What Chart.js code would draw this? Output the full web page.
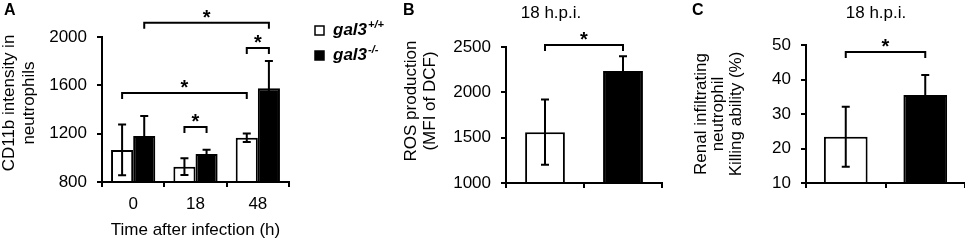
<!DOCTYPE html>
<html>
<head>
<meta charset="utf-8">
<title>gal3 neutrophils</title>
<script src="https://cdn.jsdelivr.net/npm/chart.js@4"></script>
<style>
  body { margin: 0; background: #fff; }
  #wrap { position: relative; width: 965px; height: 243px; overflow: hidden; }
  canvas { position: absolute; top: 0; }
</style>
</head>
<body>
<div id="wrap">
  <canvas id="chartA" width="400" height="243" style="left:0px"></canvas>
  <canvas id="chartB" width="289" height="243" style="left:401px"></canvas>
  <canvas id="chartC" width="275" height="243" style="left:690px"></canvas>
</div>
<script>
const FONT = '"Liberation Sans", Arial, Helvetica, sans-serif';

// panel A - CD11b intensity
const timeLabels = ['0', '18', '48'];
const cd11bWt = [1065, 927, 1167];
const cd11bWtErr = [210, 70, 35];
const cd11bKo = [1181, 1032, 1576];
const cd11bKoErr = [165, 35, 226];
const cd11bTicks = [800, 2000, 400];

// panels B and C - 18 h.p.i.
const genotypes = ['gal3+/+', 'gal3-/-'];
const rosValues = [1560, 2235];
const rosErr = [360, 162];
const rosTicks = [1000, 2500, 500];
const killValues = [23.4, 35.5];
const killErr = [8.7, 5.8];
const killTicks = [10, 50, 10];

// significance brackets: [dataset, bar] -> [dataset, bar] at a y level
const cd11bBrackets = [
  { from: [1, 0], to: [1, 2], level: 2118 },
  { from: [0, 2], to: [1, 2], level: 1909 },
  { from: [0, 0], to: [0, 2], level: 1536 },
  { from: [0, 1], to: [1, 1], level: 1255 }
];
const rosBrackets = [{ from: [0, 0], to: [0, 1], level: 2522 }];
const killBrackets = [{ from: [0, 0], to: [0, 1], level: 48 }];

function drawSup(ctx, base, sup, x, y, weight, size) {
  ctx.textAlign = 'left';
  ctx.textBaseline = 'alphabetic';
  ctx.font = weight + ' ' + size + 'px ' + FONT;
  const w1 = ctx.measureText(base).width;
  ctx.fillText(base, x, y);
  ctx.font = weight + ' 11px ' + FONT;
  ctx.fillText(sup, x + w1 + 1, y - 7);
}

// error bars, brackets, titles and legend
const decor = {
  id: 'decor',
  afterDatasetsDraw(chart, args, opts) {
    const ctx = chart.ctx;
    const xs = chart.scales.x, ys = chart.scales.y;
    ctx.save();
    ctx.strokeStyle = '#000';
    ctx.fillStyle = '#000';
    ctx.lineWidth = 2;

    chart.data.datasets.forEach((ds, i) => {
      chart.getDatasetMeta(i).data.forEach((bar, j) => {
        const top = ys.getPixelForValue(ds.data[j] + ds.err[j]);
        const bot = ys.getPixelForValue(ds.data[j] - ds.err[j]);
        ctx.beginPath();
        ctx.moveTo(bar.x, top); ctx.lineTo(bar.x, bot);
        ctx.moveTo(bar.x - 4, top); ctx.lineTo(bar.x + 4, top);
        ctx.moveTo(bar.x - 4, bot); ctx.lineTo(bar.x + 4, bot);
        ctx.stroke();
      });
    });

    (opts.brackets || []).forEach(b => {
      const x1 = chart.getDatasetMeta(b.from[0]).data[b.from[1]].x;
      const x2 = chart.getDatasetMeta(b.to[0]).data[b.to[1]].x;
      const yy = ys.getPixelForValue(b.level);
      ctx.beginPath();
      ctx.moveTo(x1, yy + 6); ctx.lineTo(x1, yy); ctx.lineTo(x2, yy); ctx.lineTo(x2, yy + 6);
      ctx.stroke();
      ctx.font = 'bold 20px ' + FONT;
      ctx.textAlign = 'center';
      ctx.textBaseline = 'alphabetic';
      ctx.fillText('*', (x1 + x2) / 2, yy + 1);
    });

    // rotated y title
    if (opts.yTitle) {
      ctx.font = '17px ' + FONT;
      ctx.textAlign = 'center';
      ctx.textBaseline = 'middle';
      opts.yTitle.lines.forEach((t, k) => {
        ctx.save();
        ctx.translate(opts.yTitle.x + k * opts.yTitle.gap, opts.yTitle.cy);
        ctx.rotate(-Math.PI / 2);
        ctx.fillText(t, 0, 0);
        ctx.restore();
      });
    }

    // genotype tick labels with superscript
    if (opts.supTicks) {
      xs.ticks.forEach((t, i) => {
        const label = chart.data.labels[i];
        const base = label.slice(0, 4), sup = label.slice(4);
        ctx.font = 'italic 17px ' + FONT;
        const w1 = ctx.measureText(base).width;
        ctx.font = 'italic 11px ' + FONT;
        const w2 = ctx.measureText(sup).width;
        const cx = xs.getPixelForTick(i);
        drawSup(ctx, base, sup, cx - (w1 + w2 + 1) / 2, xs.top + 28, 'italic', 17);
      });
    }

    ctx.textBaseline = 'alphabetic';
    ctx.textAlign = 'left';
    ctx.font = 'bold 16px ' + FONT;
    ctx.fillText(opts.letter[0], opts.letter[1], 15);

    if (opts.heading) {
      ctx.font = '17px ' + FONT;
      ctx.textAlign = 'center';
      ctx.fillText(opts.heading[0], opts.heading[1], 18);
    }

    if (opts.legend) {
      opts.legend.forEach((it, k) => {
        const by = 26 + k * 25;
        ctx.fillStyle = it.color;
        ctx.fillRect(315, by, 9, 9);
        ctx.lineWidth = 1.5;
        ctx.strokeRect(315, by, 9, 9);
        ctx.fillStyle = '#000';
        drawSup(ctx, it.label.slice(0, 4), it.label.slice(4), 333, by + 9, 'italic bold', 17);
      });
    }
    ctx.restore();
  }
};

function makeOptions(t, yWidth, xHeight, pad, catPct, xTitle, supTicks, decorOpts) {
  return {
    responsive: false,
    animation: false,
    layout: { padding: pad },
    datasets: { bar: { barPercentage: 1, categoryPercentage: catPct, borderWidth: 2,
      borderColor: '#000', base: t[0] } },
    plugins: { legend: { display: false }, tooltip: { enabled: false }, decor: decorOpts },
    scales: {
      x: {
        z: 1,
        offset: true,
        grid: { display: true, offset: true, drawOnChartArea: false, drawTicks: true,
          tickLength: 5, color: '#000', lineWidth: 2 },
        border: { display: true, color: '#000', width: 2 },
        ticks: { display: !supTicks, color: '#000', padding: 7, font: { size: 17, family: FONT } },
        title: { display: !!xTitle, text: xTitle || '', color: '#000',
          font: { size: 17, family: FONT }, padding: { top: 0, bottom: 2 } },
        afterFit: s => { s.height = xHeight; }
      },
      y: {
        z: 1,
        min: t[0], max: t[1],
        grid: { display: true, drawOnChartArea: false, drawTicks: true,
          tickLength: 5, color: '#000', lineWidth: 2 },
        border: { display: true, color: '#000', width: 2 },
        ticks: { stepSize: t[2], color: '#000', padding: 10, font: { size: 17, family: FONT },
          callback: v => String(v) },
        afterFit: s => { s.width = yWidth; }
      }
    }
  };
}

new Chart(document.getElementById('chartA'), {
  type: 'bar',
  data: {
    labels: timeLabels,
    datasets: [
      { label: 'gal3+/+', data: cd11bWt, err: cd11bWtErr, backgroundColor: '#fff' },
      { label: 'gal3-/-', data: cd11bKo, err: cd11bKoErr, backgroundColor: '#000' }
    ]
  },
  options: makeOptions(cd11bTicks, 102, 61, { left: 0, top: 37, right: 111, bottom: 0 }, 0.71,
    'Time after infection (h)', false, {
      brackets: cd11bBrackets,
      letter: ['A', 4],
      yTitle: { lines: ['CD11b intensity in', 'neutrophils'], x: 9, gap: 20, cy: 103 },
      legend: [{ label: 'gal3+/+', color: '#fff' }, { label: 'gal3-/-', color: '#000' }]
    }),
  plugins: [decor]
});

new Chart(document.getElementById('chartB'), {
  type: 'bar',
  data: {
    labels: genotypes,
    datasets: [{ data: rosValues, err: rosErr, backgroundColor: ['#fff', '#000'] }]
  },
  options: makeOptions(rosTicks, 105, 60, { left: 0, top: 47, right: 28, bottom: 0 }, 0.51,
    null, true, {
      brackets: rosBrackets,
      letter: ['B', 2],
      heading: ['18 h.p.i.', 150],
      yTitle: { lines: ['ROS production', '(MFI of DCF)'], x: 10, gap: 19, cy: 101 }
    }),
  plugins: [decor]
});

new Chart(document.getElementById('chartC'), {
  type: 'bar',
  data: {
    labels: genotypes,
    datasets: [{ data: killValues, err: killErr, backgroundColor: ['#fff', '#000'] }]
  },
  options: makeOptions(killTicks, 116, 60, { left: 0, top: 45, right: 0, bottom: 0 }, 0.55,
    null, true, {
      brackets: killBrackets,
      letter: ['C', 2],
      heading: ['18 h.p.i.', 186],
      yTitle: { lines: ['Renal infiltrating', 'neutrophil', 'Killing ability (%)'], x: 11, gap: 17.5, cy: 114 }
    }),
  plugins: [decor]
});
</script>
</body>
</html>
